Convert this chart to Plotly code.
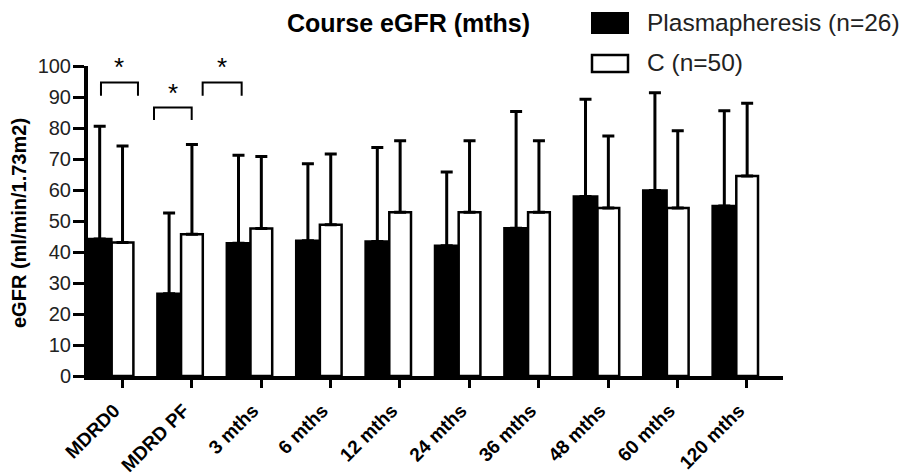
import plotly.graph_objects as go

categories = ["MDRD0", "MDRD PF", "3 mths", "6 mths", "12 mths", "24 mths",
              "36 mths", "48 mths", "60 mths", "120 mths"]
plasma_mean = [44.2, 26.5, 42.8, 43.6, 43.4, 42.0, 47.7, 57.9, 59.8, 54.8]
plasma_sd = [36.4, 26.1, 28.4, 24.9, 30.3, 23.8, 37.6, 31.4, 31.6, 30.8]
c_mean = [43.1, 45.7, 47.6, 48.8, 52.8, 52.8, 52.8, 54.2, 54.2, 64.5]
c_sd = [31.1, 29.0, 23.2, 22.8, 23.1, 23.1, 23.1, 23.2, 24.9, 23.5]
series_names = ["Plasmapheresis (n=26)", "C (n=50)"]
y_ticks = list(range(0, 101, 10))

FONT = "Liberation Sans, Arial, sans-serif"
L, R, T, B = 88, 126, 66, 99
PW, PH = 909 - L - R, 475 - T - B


def px(xp):
    return (xp - L) / PW


def py(yp):
    return (475 - B - yp) / PH


fig = go.Figure()
fig.add_trace(go.Bar(
    x=categories, y=plasma_mean, name=series_names[0],
    marker=dict(color="black", line=dict(color="black", width=2.5)),
    offset=-0.494, width=0.337,
    error_y=dict(type="data", array=plasma_sd, arrayminus=[0] * len(plasma_sd),
                 symmetric=False, color="black", thickness=3, width=6),
))
fig.add_trace(go.Bar(
    x=categories, y=c_mean, name=series_names[1],
    marker=dict(color="white", line=dict(color="black", width=2.5)),
    offset=-0.153, width=0.313,
    error_y=dict(type="data", array=c_sd, arrayminus=[0] * len(c_sd),
                 symmetric=False, color="black", thickness=3, width=6),
))

# significance brackets: (x_left, x_right, y_top, y_leg)
sig_brackets = [(-0.307, 0.226, 94.7, 90.4),
                (0.457, 1.0, 86.6, 82.6),
                (1.158, 1.72, 94.7, 90.4)]
shapes = []
annotations = []
for x0, x1, yt, yl in sig_brackets:
    shapes.append(dict(type="path", xref="x", yref="y",
                       path=f"M {x0},{yl} L {x0},{yt} L {x1},{yt} L {x1},{yl}",
                       line=dict(color="black", width=2)))
    annotations.append(dict(x=(x0 + x1) / 2, y=yt, xref="x", yref="y", text="*",
                            showarrow=False, yanchor="bottom", yshift=-2,
                            font=dict(family=FONT, size=26, color="black")))

# legend (drawn manually)
shapes.append(dict(type="rect", xref="paper", yref="paper",
                   x0=px(592), x1=px(628), y0=py(33), y1=py(13),
                   fillcolor="black", line=dict(color="black", width=2)))
shapes.append(dict(type="rect", xref="paper", yref="paper",
                   x0=px(592), x1=px(628), y0=py(72), y1=py(55),
                   fillcolor="white", line=dict(color="black", width=2.5)))
annotations.append(dict(x=px(645), y=py(22), xref="paper", yref="paper",
                        text=series_names[0], showarrow=False, xanchor="left", yanchor="middle",
                        font=dict(family=FONT, size=24.5, color="#222")))
annotations.append(dict(x=px(645), y=py(63), xref="paper", yref="paper",
                        text=series_names[1], showarrow=False, xanchor="left", yanchor="middle",
                        font=dict(family=FONT, size=24.5, color="#222")))
# title
annotations.append(dict(x=px(408), y=py(23), xref="paper", yref="paper",
                        text="<b>Course eGFR (mths)</b>", showarrow=False,
                        xanchor="center", yanchor="middle",
                        font=dict(family=FONT, size=25, color="black")))
# y-axis title
annotations.append(dict(x=px(19), y=py(223), xref="paper", yref="paper",
                        text="<b>eGFR (ml/min/1.73m2)</b>", showarrow=False, textangle=-90,
                        xanchor="center", yanchor="middle",
                        font=dict(family=FONT, size=20, color="black")))

fig.update_layout(
    width=909, height=475,
    margin=dict(l=L, r=R, t=T, b=B, autoexpand=False),
    paper_bgcolor="white", plot_bgcolor="white",
    barmode="overlay", showlegend=False,
    shapes=shapes, annotations=annotations,
    font=dict(family=FONT, color="black"),
)
fig.update_xaxes(
    type="category", range=[-0.494, 9.52], automargin=False,
    showline=True, linecolor="black", linewidth=4,
    ticks="outside", ticklen=8, tickwidth=3, tickcolor="black",
    tickangle=-45, tickfont=dict(family=FONT, size=19, color="black", weight="bold"),
    ticklabelstandoff=4, ticklabelshift=-8,
    showgrid=False, zeroline=False,
)
fig.update_yaxes(
    range=[0, 100], tickvals=y_ticks, automargin=False,
    showline=True, linecolor="black", linewidth=4,
    ticks="outside", ticklen=11, tickwidth=3, tickcolor="black",
    tickfont=dict(family=FONT, size=20, color="#222"),
    ticklabelstandoff=-2,
    showgrid=False, zeroline=False,
)

fig.write_html("out.html", config={"displayModeBar": False},
               post_script="document.body.style.margin='0px';")
